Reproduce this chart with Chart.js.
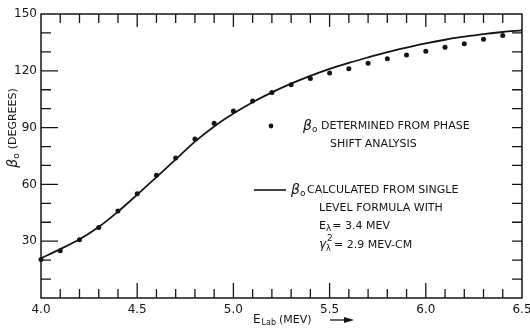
<!DOCTYPE html>
<html>
<head>
<meta charset="utf-8">
<script src="https://cdn.jsdelivr.net/npm/chart.js@4"></script>
<style>
html,body{margin:0;padding:0;background:#fff;}
#wrap{width:530px;height:328px;position:relative;}
</style>
</head>
<body>
<div id="wrap"><canvas id="c" width="530" height="328"></canvas></div>
<script>
// Measured phase shifts (points)
const energies = [4.0,4.1,4.2,4.3,4.4,4.5,4.6,4.7,4.8,4.9,5.0,5.1,5.2,5.3,5.4,5.5,5.6,5.7,5.8,5.9,6.0,6.1,6.2,6.3,6.4];
const phaseShift = [20.3,25.0,30.8,37.3,46.0,55.0,64.8,74.0,84.0,92.3,98.8,104.0,108.5,112.6,115.9,118.8,121.1,124.0,126.3,128.3,130.3,132.4,134.3,136.6,138.7];
// Single-level formula curve
const curveEnergies = [4.0,4.1,4.2,4.3,4.4,4.5,4.6,4.7,4.8,4.9,5.0,5.1,5.2,5.3,5.4,5.5,5.6,5.7,5.8,5.9,6.0,6.1,6.2,6.3,6.4,6.5];
const calculated = [21.0,25.8,31.0,37.5,45.6,54.6,63.8,73.2,82.6,90.6,97.4,103.4,108.6,113.2,117.3,121.0,124.2,127.1,129.9,132.3,134.5,136.4,138.0,139.4,140.5,141.3];
// Tick labels
const xTickLabels = ['4.0','4.5','5.0','5.5','6.0','6.5'];
const yTickLabels = ['30','60','90','120','150'];

const INK = '#141414';
const FONT = '"DejaVu Sans", sans-serif';

function drawRuns(ctx, x, y, runs) {
  let cx = x;
  for (const r of runs) {
    ctx.font = r.font;
    ctx.fillText(r.t, cx, y + (r.dy || 0));
    cx += ctx.measureText(r.t).width + (r.sp || 0);
  }
  return cx;
}
function runsWidth(ctx, runs) {
  let w = 0;
  for (const r of runs) { ctx.font = r.font; w += ctx.measureText(r.t).width + (r.sp || 0); }
  return w;
}

const decor = {
  id: 'decor',
  afterDraw(chart) {
    const ctx = chart.ctx;
    const a = chart.chartArea;
    const xs = chart.scales.x, ys = chart.scales.y;
    ctx.save();
    ctx.strokeStyle = INK;
    ctx.fillStyle = INK;
    ctx.lineWidth = 1.5;
    ctx.strokeRect(a.left, a.top, a.right - a.left, a.bottom - a.top);
    ctx.lineWidth = 1.3;
    ctx.beginPath();
    for (const t of xs.ticks) {
      const v = t.value;
      if (Math.abs(v - xs.min) < 1e-6 || Math.abs(v - xs.max) < 1e-6) continue;
      const px = xs.getPixelForValue(v);
      const major = Math.abs(v * 2 - Math.round(v * 2)) < 1e-6;
      ctx.moveTo(px, a.bottom); ctx.lineTo(px, a.bottom - (major ? 15 : 9));
      ctx.moveTo(px, a.top); ctx.lineTo(px, a.top + (major ? 13 : 9));
    }
    for (const t of ys.ticks) {
      const v = t.value;
      if (v <= ys.min + 1e-6 || v >= ys.max - 1e-6) continue;
      const py = ys.getPixelForValue(v);
      const major = Math.round(v) % 30 === 0;
      ctx.moveTo(a.left, py); ctx.lineTo(a.left + (major ? 17 : 10), py);
      ctx.moveTo(a.right, py); ctx.lineTo(a.right - 10, py);
    }
    ctx.stroke();

    // Legend
    ctx.textBaseline = 'middle';
    ctx.textAlign = 'left';
    const txt = '11px ' + FONT;
    const beta = 'italic 14px ' + FONT;
    const sub = '9px ' + FONT;
    ctx.beginPath(); ctx.arc(271, 126, 2.4, 0, Math.PI * 2); ctx.fill();
    drawRuns(ctx, 303, 126, [{t: 'β', font: beta}, {t: 'o', font: sub, dy: 4}]);
    drawRuns(ctx, 321, 126, [{t: 'DETERMINED FROM PHASE', font: txt, sp: 0}]);
    drawRuns(ctx, 330, 144, [{t: 'SHIFT ANALYSIS', font: txt}]);

    ctx.lineWidth = 1.6;
    ctx.beginPath(); ctx.moveTo(254, 190); ctx.lineTo(286, 190); ctx.stroke();
    drawRuns(ctx, 291, 190, [{t: 'β', font: beta}, {t: 'o', font: sub, dy: 4}]);
    drawRuns(ctx, 307, 190, [{t: 'CALCULATED FROM SINGLE', font: txt}]);
    drawRuns(ctx, 319, 208, [{t: 'LEVEL FORMULA WITH', font: txt}]);
    drawRuns(ctx, 319, 226, [{t: 'E', font: txt}, {t: 'λ', font: sub, dy: 3, sp: 1}, {t: '= 3.4 MEV', font: txt}]);
    drawRuns(ctx, 319, 245, [{t: 'γ', font: 'italic 12px ' + FONT}, {t: 'λ', font: '8px ' + FONT, dy: 4}]);
    drawRuns(ctx, 327, 239, [{t: '2', font: sub}]);
    drawRuns(ctx, 334, 245, [{t: '= 2.9 MEV-CM', font: txt}]);

    // X axis title
    drawRuns(ctx, 253, 320, [{t: 'E', font: '12px ' + FONT, sp: 1}, {t: 'Lab', font: '8px ' + FONT, dy: 3, sp: 3}, {t: '(MEV)', font: '11px ' + FONT}]);
    ctx.lineWidth = 1.3;
    ctx.beginPath(); ctx.moveTo(330, 320); ctx.lineTo(346, 320); ctx.stroke();
    ctx.beginPath(); ctx.moveTo(354, 320); ctx.lineTo(344, 317); ctx.lineTo(344, 323); ctx.closePath(); ctx.fill();

    // Y axis title (rotated)
    const yRuns = [{t: 'β', font: 'italic 14px ' + FONT}, {t: 'o', font: sub, dy: 4, sp: 4}, {t: '(DEGREES)', font: '11px ' + FONT}];
    const w = runsWidth(ctx, yRuns);
    ctx.translate(13, 128);
    ctx.rotate(-Math.PI / 2);
    drawRuns(ctx, -w / 2, 0, yRuns);
    ctx.restore();
  }
};

new Chart(document.getElementById('c'), {
  type: 'scatter',
  data: {
    datasets: [
      {
        type: 'line',
        label: 'calculated',
        data: curveEnergies.map((x, i) => ({x, y: calculated[i]})),
        borderColor: INK,
        borderWidth: 1.8,
        pointRadius: 0,
        fill: false,
        clip: false,
        cubicInterpolationMode: 'monotone'
      },
      {
        label: 'phase shift',
        data: energies.map((x, i) => ({x, y: phaseShift[i]})),
        backgroundColor: INK,
        borderColor: INK,
        pointRadius: 2.5,
        borderWidth: 0,
        clip: false
      }
    ]
  },
  options: {
    responsive: false,
    animation: false,
    devicePixelRatio: 1,
    layout: {padding: {left: 0, right: 8, top: 14, bottom: 0}},
    plugins: {legend: {display: false}, tooltip: {enabled: false}},
    scales: {
      x: {
        type: 'linear', min: 4.0, max: 6.5,
        grid: {display: false, drawTicks: false},
        border: {display: false},
        ticks: {
          stepSize: 0.1, autoSkip: false, maxRotation: 0, minRotation: 0, padding: 5,
          color: INK, font: {family: FONT, size: 12},
          callback: (v) => {
            const s = (Math.round(v * 10) / 10).toFixed(1);
            return xTickLabels.includes(s) ? s : '';
          }
        },
        afterFit: (s) => { s.height = 30; s.paddingLeft = 0; s.paddingRight = 0; }
      },
      y: {
        type: 'linear', min: 0, max: 150,
        grid: {display: false, drawTicks: false},
        border: {display: false},
        ticks: {
          stepSize: 10, autoSkip: false, padding: 4,
          color: INK, font: {family: FONT, size: 12},
          callback: (v) => {
            const s = String(Math.round(v));
            return yTickLabels.includes(s) ? s : '';
          }
        },
        afterFit: (s) => { s.width = 41; s.paddingTop = 0; s.paddingBottom = 0; }
      }
    }
  },
  plugins: [decor]
});
</script>
</body>
</html>
